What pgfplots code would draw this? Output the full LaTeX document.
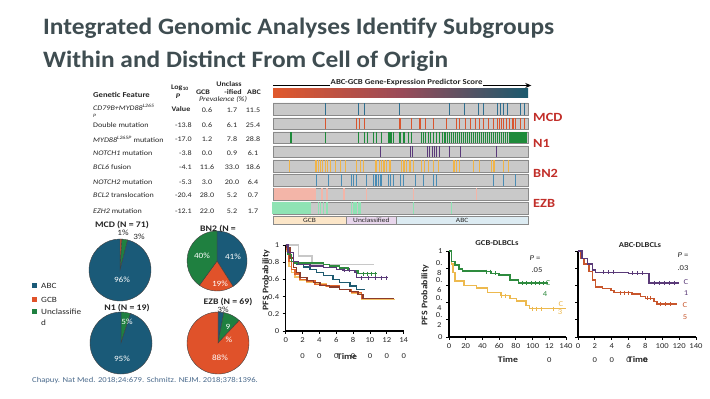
\documentclass[border=0pt]{standalone}
\usepackage{pgfplots}
\pgfplotsset{compat=1.18}
\usepackage{fontspec}
\setmainfont{Carlito}[FakeStretch=1.15]
\newfontfamily\titlefont{Carlito}[FakeStretch=1.08]
\usetikzlibrary{arrows.meta}
\definecolor{ttl}{HTML}{3F4D51}
\definecolor{cABC}{HTML}{1A5A78}
\definecolor{cGCB}{HTML}{E0522A}
\definecolor{cUNC}{HTML}{1F8040}
\definecolor{hmred}{HTML}{C22F2A}
\definecolor{rowgray}{HTML}{C9C9C9}
\definecolor{rowedge}{HTML}{8A8A8A}
\definecolor{t1}{HTML}{2F6F90}
\definecolor{t2}{HTML}{D9552E}
\definecolor{t3}{HTML}{1E8A3A}
\definecolor{t4}{HTML}{5A3A7A}
\definecolor{t5}{HTML}{F0B448}
\definecolor{t6}{HTML}{4A8CB4}
\definecolor{t7}{HTML}{F3B5A8}
\definecolor{t8}{HTML}{8FE3B4}
\definecolor{hmleft}{HTML}{E0582C}
\definecolor{hmmid}{HTML}{9A4A58}
\definecolor{hmright}{HTML}{1B5A6E}
\definecolor{bGCB}{HTML}{FCE6C8}
\definecolor{bUNC}{HTML}{E8D6EC}
\definecolor{bABC}{HTML}{DCEBF2}
\definecolor{kmgray}{HTML}{C8C8C8}
\definecolor{kmgreen}{HTML}{2E8B3E}
\definecolor{kmpurple}{HTML}{5A3A78}
\definecolor{kmteal}{HTML}{1D5A70}
\definecolor{kmbrown}{HTML}{8C3B2A}
\definecolor{kmorange}{HTML}{E0642A}
\definecolor{kmyellow}{HTML}{F3C167}
\definecolor{gcbyellow}{HTML}{EDB94E}
\definecolor{abcorange}{HTML}{C8562C}
\definecolor{note}{HTML}{4A6A8C}
\definecolor{txt}{HTML}{262626}
\newcommand{\fs}[1]{\fontsize{#1}{#1}\selectfont}
\pgfplotsset{kmaxis/.style={
  scale only axis, xmin=0, xmax=140, ymin=0, ymax=1,
  axis lines=left, axis line style={-, line width=1.3pt},
  tick style={black, line width=0.9pt}, major tick length=3pt, tick align=outside,
  xtick={0,20,40,60,80,100,120,140}, ytick={0,0.2,0.4,0.6,0.8,1},
  tick label style={align=center, text=txt},
  y tick label style={font=\fontsize{7.5}{9}\selectfont},
  /pgf/number format/assume math mode=true,
  clip=false}}
\newcommand{\slice}[6]{\fill[#6, draw=black!75, line width=0.4pt] (axis cs:#1,#2) -- ++(#4:#3pt) arc[start angle=#4, end angle=#5, radius=#3pt] -- cycle;}
\begin{document}
\begin{tikzpicture}[x=1pt,y=1pt]
\path[use as bounding box, fill=white] (0,0) rectangle (710,399);
% ---------- title
\node[anchor=base west, inner sep=0, text=ttl, font=\titlefont\fontsize{23.5}{28}\selectfont\bfseries] at (43,364) {Integrated Genomic Analyses Identify Subgroups};
\node[anchor=base west, inner sep=0, text=ttl, font=\titlefont\fontsize{23.5}{28}\selectfont\bfseries] at (43,331) {Within and Distinct From Cell of Origin};
% ---------- heatmap
\begin{axis}[at={(273pt,173pt)}, anchor=south west, scale only axis, width=255pt, height=146pt,
  xmin=38, xmax=805, ymin=173, ymax=319, hide axis, clip=false]
\path[left color=hmleft, right color=hmright, middle color=hmmid] (axis cs:38,301) rectangle (axis cs:805,310);
\draw[line width=1.1pt, -{Stealth[length=6pt,width=5pt]}] (axis cs:38,313.5) -- (axis cs:815,313.5);
\node[inner sep=0.5pt, fill=white, font=\fs{7.6}\bfseries, text=txt] at (axis cs:440,317) {ABC-GCB Gene-Expression Predictor Score};
\addplot[fill=rowgray, draw=rowedge, line width=0.5pt] coordinates {(38,284)(805,284)(805,296)(38,296)(38,284)};
\addplot[fill=rowgray, draw=rowedge, line width=0.5pt] coordinates {(38,270)(805,270)(805,281)(38,281)(38,270)};
\addplot[fill=rowgray, draw=rowedge, line width=0.5pt] coordinates {(38,256)(805,256)(805,267)(38,267)(38,256)};
\addplot[fill=rowgray, draw=rowedge, line width=0.5pt] coordinates {(38,242)(805,242)(805,253)(38,253)(38,242)};
\addplot[fill=rowgray, draw=rowedge, line width=0.5pt] coordinates {(38,227)(805,227)(805,239)(38,239)(38,227)};
\addplot[fill=rowgray, draw=rowedge, line width=0.5pt] coordinates {(38,213)(805,213)(805,225)(38,225)(38,213)};
\addplot[fill=rowgray, draw=rowedge, line width=0.5pt] coordinates {(38,199)(805,199)(805,211)(38,211)(38,199)};
\addplot[fill=rowgray, draw=rowedge, line width=0.5pt] coordinates {(38,185)(805,185)(805,197)(38,197)(38,185)};
% row ticks
\addplot[only marks, mark=|, mark size=5.6pt, color=t1, mark options={line width=0.9pt}] coordinates {
(197,290)(296,290)(312,290)(418,290)(568,290)(614,290)(657,290)(670,290)(714,290)(722,290)(730,290)(742,290)(782,290)(795,290)};
\addplot[only marks, mark=|, mark size=5.2pt, color=t2, mark options={line width=1.1pt}] coordinates {
(197,275.5)(290,275.5)(297,275.5)(313,275.5)(420,275.5)(455,275.5)(480,275.5)(497,275.5)(520,275.5)(560,275.5)(590,275.5)(600,275.5)(617,275.5)(632,275.5)(647,275.5)(660,275.5)(672,275.5)(685,275.5)(700,275.5)(712,275.5)(718,275.5)(725,275.5)(732,275.5)(740,275.5)(750,275.5)(760,275.5)(768,275.5)(782,275.5)(795,275.5)};
\addplot[only marks, mark=|, mark size=5.2pt, color=t3, mark options={line width=1.1pt}] coordinates {
(92,261.5)(197,261.5)(296,261.5)(312,261.5)(322,261.5)(340,261.5)(350,261.5)(365,261.5)(385,261.5)(390,261.5)(395,261.5)(400,261.5)(420,261.5)(432,261.5)(445,261.5)(455,261.5)(485,261.5)(490,261.5)(497,261.5)(505,261.5)(512,261.5)(520,261.5)(530,261.5)(540,261.5)(548,261.5)(553,261.5)(558,261.5)(563,261.5)(568,261.5)(575,261.5)(580,261.5)(586,261.5)(592,261.5)(598,261.5)(604,261.5)(610,261.5)(616,261.5)(622,261.5)(628,261.5)(634,261.5)(640,261.5)(646,261.5)(652,261.5)(658,261.5)(664,261.5)(670,261.5)(676,261.5)(682,261.5)(688,261.5)(694,261.5)(700,261.5)(706,261.5)(712,261.5)(718,261.5)(724,261.5)(730,261.5)(736,261.5)(742,261.5)(748,261.5)(754,261.5)(760,261.5)(766,261.5)(772,261.5)(778,261.5)(784,261.5)(790,261.5)(796,261.5)(801,261.5)};
\addplot[only marks, mark=|, mark size=5.2pt, color=t4, mark options={line width=0.9pt}] coordinates {
(362,247.5)(450,247.5)(456,247.5)(503,247.5)(510,247.5)(517,247.5)(524,247.5)(530,247.5)(540,247.5)(570,247.5)(602,247.5)(710,247.5)};
\addplot[only marks, mark=|, mark size=5.6pt, color=t5, mark options={line width=1.1pt}] coordinates {
(88,233)(165,233)(170,233)(176,233)(182,233)(188,233)(195,233)(202,233)(210,233)(225,233)(240,233)(256,233)(290,233)(300,233)(310,233)(345,233)(350,233)(357,233)(365,233)(372,233)(380,233)(390,233)(425,233)(432,233)(440,233)(450,233)(460,233)(485,233)(495,233)(505,233)(520,233)(535,233)(580,233)(585,233)(590,233)(600,233)(640,233)(660,233)(695,233)(700,233)(705,233)(730,233)(745,233)};
\addplot[only marks, mark=|, mark size=5.6pt, color=t6, mark options={line width=0.9pt}] coordinates {
(170,219)(205,219)(245,219)(275,219)(280,219)(290,219)(320,219)(340,219)(345,219)(350,219)(355,219)(360,219)(365,219)(385,219)(390,219)(400,219)(420,219)(430,219)(465,219)(490,219)(520,219)(530,219)(700,219)(730,219)(768,219)};
\addplot[only marks, mark=|, mark size=5.6pt, color=t7, mark options={line width=1.3pt}] coordinates {
(42,205)(46,205)(50,205)(54,205)(58,205)(62,205)(66,205)(70,205)(74,205)(78,205)(82,205)(86,205)(90,205)(94,205)(98,205)(102,205)(106,205)(110,205)(114,205)(118,205)(122,205)(126,205)(130,205)(134,205)(138,205)(142,205)(146,205)(150,205)(154,205)(158,205)(162,205)(166,205)(185,205)(200,205)(250,205)(254,205)(320,205)(460,205)(650,205)};
\addplot[only marks, mark=|, mark size=5.6pt, color=t8, mark options={line width=1.3pt}] coordinates {
(38,191)(41,191)(44,191)(47,191)(50,191)(53,191)(56,191)(59,191)(62,191)(65,191)(68,191)(71,191)(74,191)(77,191)(80,191)(83,191)(86,191)(89,191)(92,191)(95,191)(98,191)(101,191)(104,191)(107,191)(110,191)(113,191)(116,191)(119,191)(122,191)(125,191)(128,191)(131,191)(134,191)(137,191)(140,191)(143,191)(146,191)(149,191)(175,191)(180,191)(190,191)(200,191)(275,191)(280,191)(285,191)(290,191)(295,191)(300,191)(460,191)(575,191)};
% COO bar
\addplot[fill=bGCB, draw=rowedge, line width=0.4pt] coordinates {(38,175)(258,175)(258,183)(38,183)(38,175)};
\addplot[fill=bUNC, draw=rowedge, line width=0.4pt] coordinates {(258,175)(410,175)(410,183)(258,183)(258,175)};
\addplot[fill=bABC, draw=rowedge, line width=0.4pt] coordinates {(410,175)(805,175)(805,183)(410,183)(410,175)};
\node[font=\fs{6.5}, text=txt] at (axis cs:148,178.5) {GCB};
\node[font=\fs{6.5}, text=txt] at (axis cs:334,178.5) {Unclassified};
\node[font=\fs{6.5}, text=txt] at (axis cs:607,178.5) {ABC};
\end{axis}
% ---------- table
\begin{scope}[every node/.style={inner sep=0, text=txt, font=\fs{7}}]
\node[anchor=west, font=\fs{7.5}\bfseries] at (93,304) {Genetic Feature};
\node[font=\fs{7}\bfseries] at (180,311) {Log\textsubscript{10}};
\node[font=\fs{7}\bfseries\itshape] at (178,303) {P};
\node[font=\fs{7}\bfseries] at (181,290) {Value};
\node[font=\fs{7}\bfseries] at (229,315) {Unclass};
\node[font=\fs{7}\bfseries] at (203,307) {GCB};
\node[font=\fs{7}\bfseries] at (233,307) {-ified};
\node[font=\fs{7}\bfseries] at (254,307) {ABC};
\node[font=\fs{7}\itshape] at (223,300) {Prevalence (\%)};
\node[anchor=west] at (93,291.5) {\textit{CD79B+MYD88}\textsuperscript{\textit{L265}}};
\node[anchor=west, font=\fs{5}\itshape] at (93,283) {P};
\node[anchor=west] at (93,274) {Double mutation};
\node[anchor=west] at (93,260) {\textit{MYD88}\textsuperscript{\textit{L265P}} mutation};
\node[anchor=west] at (93,246) {\textit{NOTCH1} mutation};
\node[anchor=west] at (93,232) {\textit{BCL6} fusion};
\node[anchor=west] at (93,217) {\textit{NOTCH2} mutation};
\node[anchor=west] at (93,204) {\textit{BCL2} translocation};
\node[anchor=west] at (93,188) {\textit{EZH2} mutation};
\node[anchor=east] at (192,274) {-13.8};
\node[anchor=east] at (192,260) {-17.0};
\node[anchor=east] at (192,246) {-3.8};
\node[anchor=east] at (192,232) {-4.1};
\node[anchor=east] at (192,217) {-5.3};
\node[anchor=east] at (192,204) {-20.4};
\node[anchor=east] at (192,188) {-12.1};
\node at (207,289) {0.6}; \node at (232,289) {1.7}; \node at (253,289) {11.5};
\node at (207,274) {0.6}; \node at (232,274) {6.1}; \node at (253,274) {25.4};
\node at (207,260) {1.2}; \node at (232,260) {7.8}; \node at (253,260) {28.8};
\node at (207,246) {0.0}; \node at (232,246) {0.9}; \node at (253,246) {6.1};
\node at (207,232) {11.6}; \node at (232,232) {33.0}; \node at (253,232) {18.6};
\node at (207,217) {3.0}; \node at (232,217) {20.0}; \node at (253,217) {6.4};
\node at (207,204) {28.0}; \node at (232,204) {5.2}; \node at (253,204) {0.7};
\node at (207,188) {22.0}; \node at (232,188) {5.2}; \node at (253,188) {1.7};
\end{scope}
% subgroup labels
\begin{scope}[every node/.style={anchor=west, inner sep=0, text=hmred, font=\fontsize{12.5}{13}\selectfont\bfseries}]
\node at (533,282) {MCD};
\node at (533,256) {N1};
\node at (533,226) {BN2};
\node at (533,196) {EZB};
\end{scope}
% ---------- pies
\begin{axis}[at={(0pt,0pt)}, anchor=south west, scale only axis, width=710pt, height=399pt,
  xmin=0, xmax=710, ymin=0, ymax=399, hide axis, clip=false]
\slice{120}{129}{31}{90}{86.4}{cGCB}
\slice{120}{129}{31}{86.4}{75.6}{cUNC}
\slice{120}{129}{31}{75.6}{-270}{cABC}
\slice{217}{138}{30}{90}{-57.6}{cABC}
\slice{217}{138}{30}{-57.6}{-126}{cGCB}
\slice{217}{138}{30}{-126}{-270}{cUNC}
\slice{121}{56}{31}{90}{72}{cUNC}
\slice{121}{56}{31}{72}{-270}{cABC}
\slice{218}{56}{31}{90}{79.2}{cABC}
\slice{218}{56}{31}{79.2}{46.8}{cUNC}
\slice{218}{56}{31}{46.8}{-270}{cGCB}
\end{axis}
\begin{scope}[every node/.style={inner sep=0, font=\fs{8}}]
\node[font=\fs{8.5}\bfseries, text=txt] at (122,174) {MCD (N = 71)};
\node[text=txt] at (123,166) {1\%};
\node[text=txt] at (139,162) {3\%};
\node[text=white] at (122,119) {96\%};
\node[font=\fs{8.5}\bfseries, text=txt] at (218,170) {BN2 (N =};
\node[text=white] at (233,142) {41\%};
\node[text=white] at (220,115) {19\%};
\node[text=white] at (202,143) {40\%};
\node[font=\fs{8.5}\bfseries, text=txt] at (127,91) {N1 (N = 19)};
\node[text=white] at (127,77) {5\%};
\node[text=white] at (122,40) {95\%};
\node[font=\fs{8.5}\bfseries, text=txt] at (228,97) {EZB (N = 69)};
\node[text=txt] at (223,89) {3\%};
\node[text=white] at (228,72) {9};
\node[text=white] at (229,59) {\%};
\node[text=white] at (220,41) {88\%};
\end{scope}
% legend
\fill[cABC] (32,110.5) rectangle (37,115.5);
\fill[cGCB] (32,96.5) rectangle (37,101.5);
\fill[cUNC] (32,84.5) rectangle (37,89.5);
\begin{scope}[every node/.style={anchor=west, inner sep=0, text=txt, font=\fs{8}}]
\node at (41,113) {ABC};
\node at (41,99) {GCB};
\node at (41,87) {Unclassifie};
\node at (41,76) {d};
\end{scope}
% footnote
\node[anchor=west, inner sep=0, text=note, font=\fs{7.5}] at (32,18) {Chapuy. Nat Med. 2018;24:679. Schmitz. NEJM. 2018;378:1396.};
% ---------- KM all
\begin{axis}[kmaxis, at={(285.7pt,68pt)}, anchor=south west, width=118pt, height=86pt,
  xticklabels={0,{2\\0},{4\\0},{6\\0},{8\\0},{10\\0},{12\\0},{14\\0}},
  yticklabels={0,0.2,0.4,0.6,0.8,1},
  x tick label style={font=\fontsize{7.5}{16}\selectfont}]
\addplot[const plot, kmgray, line width=1.5pt] coordinates {(0,1)(15,0.87)(31,0.775)(104.5,0.775)};
\addplot[const plot, kmyellow, line width=1.5pt] coordinates {(0,1)(1,0.93)(4,0.75)(7,0.68)(11,0.63)(17,0.59)(25,0.57)(35,0.55)(48,0.52)(64,0.48)(78,0.44)(90,0.365)(130,0.365)};
\addplot[const plot, kmorange, line width=1.5pt] coordinates {(0,1)(1,0.95)(4,0.81)(7,0.717)(11,0.66)(17,0.6)(25,0.58)(35,0.54)(48.5,0.523)(64,0.484)(78,0.446)(90,0.375)(129,0.375)};
\addplot[const plot, kmbrown, line width=1.5pt] coordinates {(0,1)(1,0.97)(5,0.85)(9,0.736)(13,0.678)(17,0.62)(25,0.59)(33,0.562)(40.6,0.53)(52,0.51)(64,0.484)(76,0.457)(86,0.426)(92,0.38)(129,0.38)};
\addplot[const plot, kmteal, line width=1.5pt] coordinates {(0,1)(3,0.89)(7,0.81)(13,0.775)(21,0.744)(29,0.717)(36.7,0.678)(44.6,0.647)(56,0.6)(64,0.562)(76,0.523)(84,0.484)(94,0.484)};
\addplot[const plot, kmgreen, line width=1.5pt] coordinates {(0,1)(3,0.89)(7,0.81)(11,0.79)(44.6,0.775)(52,0.756)(64,0.73)(74,0.705)(82,0.70)(86,0.667)(108,0.667)};
\addplot[const plot, kmpurple, line width=1.5pt] coordinates {(0,1)(3,0.91)(9,0.81)(15,0.775)(29,0.756)(44.6,0.736)(60,0.717)(68,0.705)(82,0.678)(84,0.62)(121.5,0.62)};
\addplot[only marks, mark=|, mark size=2pt, kmgreen, mark options={line width=0.7pt}] coordinates {(92,0.667)(97,0.667)(102,0.667)(106,0.667)};
\addplot[only marks, mark=|, mark size=2pt, kmpurple, mark options={line width=0.7pt}] coordinates {(70,0.705)(76,0.705)(90,0.62)(98,0.62)(106,0.62)(114,0.62)(120,0.62)};
\end{axis}
\node[rotate=90, inner sep=0, font=\fs{8.5}\bfseries, text=txt] at (266,119) {PFS Probability};
\node[inner sep=0, font=\fs{8.5}\bfseries, text=txt] at (347,42) {Time};
% ---------- KM GCB
\begin{axis}[kmaxis, at={(449pt,62pt)}, anchor=south west, width=117pt, height=86pt,
  xticklabels={0,20,40,60,80,100,{12\\0},140},
  yticklabels={0,{0.\\2},{0.\\4},{0.\\6},{0.\\8},1},
  x tick label style={font=\fontsize{7.5}{14}\selectfont},
  y tick label style={font=\fontsize{7.5}{10}\selectfont}]
\addplot[const plot, gcbyellow, line width=1.5pt] coordinates {(0,1)(3,0.85)(5,0.75)(7,0.65)(18,0.6)(33,0.57)(46,0.515)(62,0.48)(73,0.45)(81,0.42)(92,0.365)(96.5,0.33)(140,0.33)};
\addplot[const plot, kmgreen, line width=1.5pt] coordinates {(0,1)(3,0.88)(7.4,0.84)(11.7,0.79)(16,0.77)(44,0.76)(51,0.74)(60,0.72)(73,0.665)(83,0.63)(118,0.63)};
\addplot[only marks, mark=|, mark size=2pt, kmgreen, mark options={line width=0.7pt}] coordinates {(45,0.76)(50,0.76)(55,0.74)(88,0.63)(93,0.63)(98,0.63)(103,0.63)(108,0.63)(113,0.63)};
\addplot[only marks, mark=|, mark size=2pt, gcbyellow, mark options={line width=0.7pt}] coordinates {(63,0.48)(67,0.48)(100,0.33)(105,0.33)(110,0.33)(125,0.33)};
\end{axis}
\begin{scope}[every node/.style={inner sep=0, font=\fs{7.5}}]
\node[font=\fs{7.5}\bfseries, text=txt] at (497,156) {GCB-DLBCLs};
\node[text=txt] at (535,141) {\textit{P} =};
\node[text=txt] at (537,129) {.05};
\node[text=kmgreen] at (548,116) {C};
\node[text=kmgreen] at (545,105) {4};
\node[text=gcbyellow] at (561,95) {C};
\node[text=gcbyellow] at (560,87) {3};
\end{scope}
\node[rotate=90, inner sep=0, font=\fs{8.5}\bfseries, text=txt] at (425,104) {PFS Probability};
\node[inner sep=0, font=\fs{8.5}\bfseries, text=txt] at (508,39) {Time};
% ---------- KM ABC
\begin{axis}[kmaxis, at={(578pt,62pt)}, anchor=south west, width=118pt, height=86pt,
  xticklabels={0,{2\\0},{4\\0},{6\\0},{8\\0},100,120,140},
  yticklabels={},
  x tick label style={font=\fontsize{7.5}{14}\selectfont}]
\addplot[const plot, abcorange, line width=1.5pt] coordinates {(0,1)(3,0.91)(7,0.85)(13,0.76)(17,0.66)(21,0.58)(29,0.565)(39,0.54)(43,0.515)(64,0.5)(74,0.47)(80,0.45)(90,0.41)(94,0.385)(117.5,0.385)};
\addplot[const plot, kmpurple, line width=1.5pt] coordinates {(0,1)(5,0.91)(11,0.85)(17,0.78)(21,0.75)(60,0.74)(84,0.63)(119.5,0.63)};
\addplot[only marks, mark=|, mark size=2pt, kmpurple, mark options={line width=0.7pt}] coordinates {(30,0.75)(36,0.75)(42,0.75)(64,0.74)(70,0.74)(76,0.74)(90,0.63)(96,0.63)(102,0.63)(108,0.63)(114,0.63)};
\addplot[only marks, mark=|, mark size=2pt, abcorange, mark options={line width=0.7pt}] coordinates {(50,0.515)(55,0.515)(60,0.515)(82,0.45)(86,0.45)(98,0.385)(104,0.385)(110,0.385)};
\end{axis}
\begin{scope}[every node/.style={inner sep=0, font=\fs{7.5}}]
\node[font=\fs{7.5}\bfseries, text=txt] at (640,154) {ABC-DLBCLs};
\node[text=txt] at (683,144) {\textit{P} =};
\node[text=txt] at (683,131) {.03};
\node[text=kmpurple] at (686,117) {C};
\node[text=kmpurple] at (686,106) {1};
\node[text=abcorange] at (685,94) {C};
\node[text=abcorange] at (685,82) {5};
\end{scope}
\node[inner sep=0, font=\fs{8.5}\bfseries, text=txt] at (638,39) {Time};
\end{tikzpicture}
\end{document}
